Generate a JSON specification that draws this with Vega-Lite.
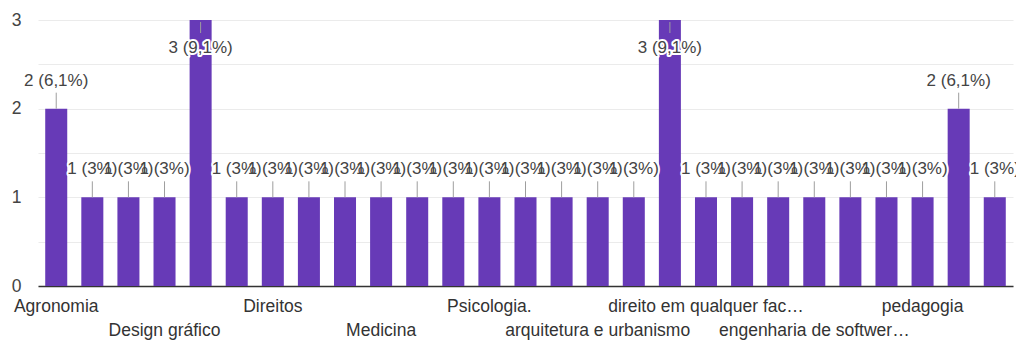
{
  "$schema": "https://vega.github.io/schema/vega-lite/v6.json",
  "width": 975,
  "height": 266,
  "autosize": {"type": "none"},
  "padding": {"left": 38, "top": 20, "right": 3, "bottom": 54},
  "background": "white",
  "config": {"view": {"stroke": null}, "font": "Liberation Sans"},
  "data": {
    "values": [
      {"curso": "Agronomia", "n": 2, "rotulo": "2 (6,1%)"},
      {"curso": "Arquitetura", "n": 1, "rotulo": "1 (3%)"},
      {"curso": "Biologia", "n": 1, "rotulo": "1 (3%)"},
      {"curso": "Design gráfico", "n": 1, "rotulo": "1 (3%)"},
      {"curso": "Direito", "n": 3, "rotulo": "3 (9,1%)"},
      {"curso": "Direito.", "n": 1, "rotulo": "1 (3%)"},
      {"curso": "Direitos", "n": 1, "rotulo": "1 (3%)"},
      {"curso": "Enfermagem", "n": 1, "rotulo": "1 (3%)"},
      {"curso": "Engenharia civil", "n": 1, "rotulo": "1 (3%)"},
      {"curso": "Medicina", "n": 1, "rotulo": "1 (3%)"},
      {"curso": "Nutrição", "n": 1, "rotulo": "1 (3%)"},
      {"curso": "Psicologia", "n": 1, "rotulo": "1 (3%)"},
      {"curso": "Psicologia.", "n": 1, "rotulo": "1 (3%)"},
      {"curso": "Veterinária", "n": 1, "rotulo": "1 (3%)"},
      {"curso": "administração", "n": 1, "rotulo": "1 (3%)"},
      {"curso": "arquitetura e urbanismo", "n": 1, "rotulo": "1 (3%)"},
      {"curso": "biomedicina", "n": 1, "rotulo": "1 (3%)"},
      {"curso": "direito", "n": 3, "rotulo": "3 (9,1%)"},
      {"curso": "direito em qualquer fac…", "n": 1, "rotulo": "1 (3%)"},
      {"curso": "educação física", "n": 1, "rotulo": "1 (3%)"},
      {"curso": "engenharia civil", "n": 1, "rotulo": "1 (3%)"},
      {"curso": "engenharia de softwer…", "n": 1, "rotulo": "1 (3%)"},
      {"curso": "medicina", "n": 1, "rotulo": "1 (3%)"},
      {"curso": "nutrição", "n": 1, "rotulo": "1 (3%)"},
      {"curso": "pedagogia", "n": 1, "rotulo": "1 (3%)"},
      {"curso": "psicologia", "n": 2, "rotulo": "2 (6,1%)"},
      {"curso": "veterinária", "n": 1, "rotulo": "1 (3%)"}
    ]
  },
  "encoding": {
    "x": {
      "field": "curso",
      "type": "nominal",
      "sort": null,
      "scale": {"paddingInner": 0.39, "paddingOuter": 0.2},
      "axis": {
        "title": null,
        "ticks": false,
        "domain": true,
        "domainColor": "#333333",
        "domainWidth": 1.5,
        "labelAngle": 0,
        "labelFontSize": 17.5,
        "labelColor": "#333333",
        "labelPadding": 11,
        "labelOverlap": false,
        "labelLineHeight": 24,
        "labelBound": false,
        "labelFlush": false,
        "labelLimit": 400,
        "labelExpr": "indexof(['Agronomia','Direitos','Psicologia.','direito em qualquer fac…','pedagogia'], datum.value) >= 0 ? datum.value : (indexof(['Design gráfico','Medicina','arquitetura e urbanismo','engenharia de softwer…'], datum.value) >= 0 ? ['', datum.value] : '')"
      }
    }
  },
  "layer": [
    {
      "mark": {"type": "bar", "color": "#673ab7"},
      "encoding": {
        "y": {
          "field": "n",
          "type": "quantitative",
          "scale": {"domain": [0, 3], "nice": false},
          "axis": {
            "title": null,
            "values": [0, 0.5, 1, 1.5, 2, 2.5, 3],
            "labelExpr": "datum.value % 1 === 0 ? format(datum.value, 'd') : ''",
            "grid": true,
            "gridColor": "#ebebeb",
            "domain": false,
            "ticks": false,
            "labelPadding": 17,
            "labelFontSize": 17.5,
            "labelColor": "#444444"
          }
        }
      }
    },
    {
      "transform": [{"filter": "datum.n < 3"}],
      "mark": {"type": "rule", "color": "#9e9e9e", "y2Offset": -16},
      "encoding": {"y": {"field": "n", "type": "quantitative"}, "y2": {"field": "n"}}
    },
    {
      "transform": [{"filter": "datum.n == 3"}],
      "mark": {"type": "rule", "color": "#9e9e9e", "yOffset": 2, "y2Offset": 13},
      "encoding": {"y": {"field": "n", "type": "quantitative"}, "y2": {"field": "n"}}
    },
    {
      "transform": [{"filter": "datum.n < 3"}],
      "mark": {"type": "text", "dy": -28, "fontSize": 17, "color": "white", "stroke": "white", "strokeWidth": 4, "strokeJoin": "round"},
      "encoding": {"y": {"field": "n", "type": "quantitative"}, "text": {"field": "rotulo"}}
    },
    {
      "transform": [{"filter": "datum.n < 3"}],
      "mark": {"type": "text", "dy": -28, "fontSize": 17, "color": "#444444"},
      "encoding": {"y": {"field": "n", "type": "quantitative"}, "text": {"field": "rotulo"}}
    },
    {
      "transform": [{"filter": "datum.n == 3"}],
      "mark": {"type": "text", "dy": 28, "fontSize": 17, "color": "white", "stroke": "white", "strokeWidth": 4, "strokeJoin": "round"},
      "encoding": {"y": {"field": "n", "type": "quantitative"}, "text": {"field": "rotulo"}}
    },
    {
      "transform": [{"filter": "datum.n == 3"}],
      "mark": {"type": "text", "dy": 28, "fontSize": 17, "color": "#444444"},
      "encoding": {"y": {"field": "n", "type": "quantitative"}, "text": {"field": "rotulo"}}
    }
  ]
}
